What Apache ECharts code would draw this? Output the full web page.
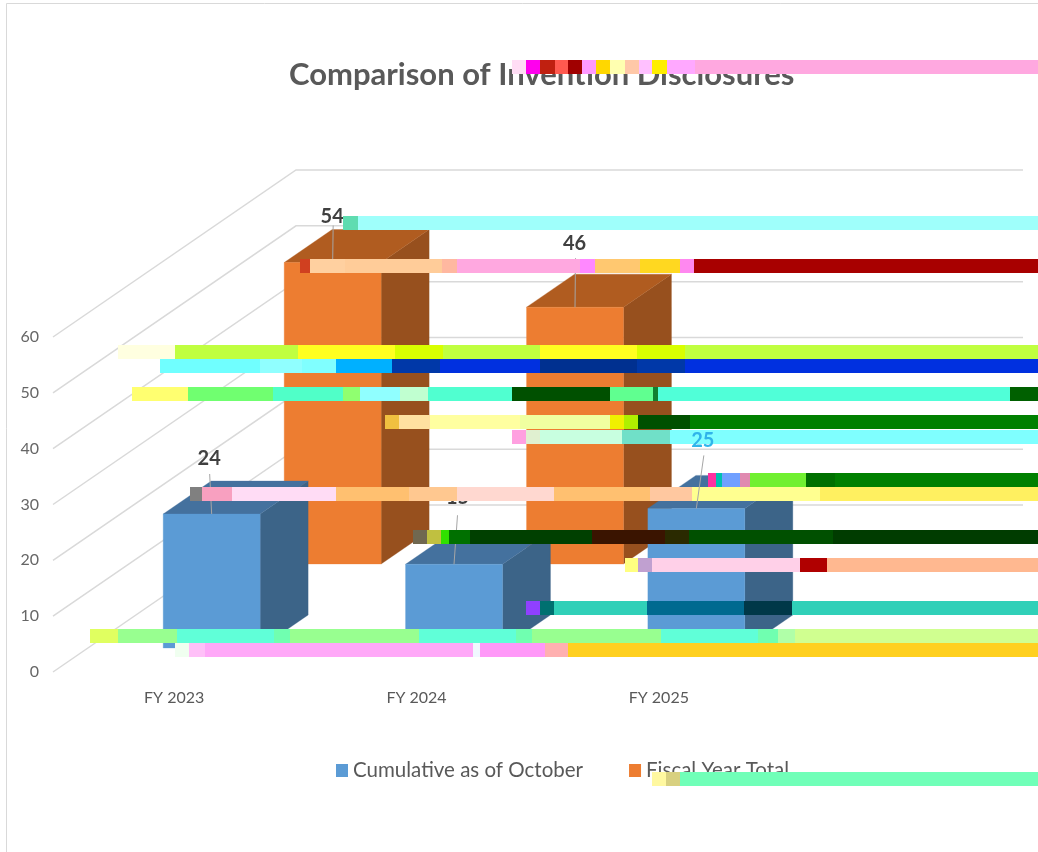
<!DOCTYPE html>
<html>
<head>
<meta charset="utf-8">
<style>html,body{margin:0;padding:0;background:#fff}#c{width:1038px;height:852px}</style>
<script src="https://cdn.jsdelivr.net/npm/echarts@6/dist/echarts.min.js"></script>
</head>
<body>
<div id="c"></div>
<script>
var categories = ['FY 2023', 'FY 2024', 'FY 2025'];
var cumulative = [24, 15, 25];
var fiscalTotal = [54, 46, null];
var yTicks = [0, 10, 20, 30, 40, 50, 60];

var FONT = 'Lato, "Open Sans", sans-serif';
// Oblique projection of the 3D chart (pixels)
var WALL = [243, -167];
var BAR_DEPTH = [48, -33];
var BLUE_ROW = [37.5, -24];
var ORANGE_ROW = [158.5, -108];

// Label placement relative to the bar's front-top centre: [label dx, label dy, leader start dx, dy]
var blueLabelPos = [[-2.5, -55, -2, -40], [3.5, -67, 3.5, -49], [6.5, -68, 7.5, -53]];
var orangeLabelPos = [[-0.5, -46, 0.5, -37], [-0.5, -64, 0.5, -49]];

function poly(points, fill) {
  return { type: 'polygon', shape: { points: points }, style: { fill: fill, stroke: fill, lineWidth: 0.3 } };
}

function barSeries(name, values, row, colors, z) {
  return {
    name: name, type: 'custom', z: z, clip: false, silent: true,
    itemStyle: { color: colors[0] },
    encode: { x: 0, y: 1 },
    data: values.map(function (v, i) { return [i, v]; }),
    renderItem: function (params, api) {
      var v = api.value(1);
      if (isNaN(v)) return null;
      var band = api.size([1, 0])[0];
      var w = band * 0.4;
      var top = api.coord([api.value(0), v]);
      var base = api.coord([api.value(0), 0]);
      var x0 = top[0] + row[0] - w / 2, x1 = x0 + w;
      var yt = top[1] + row[1], yb = base[1] + row[1];
      var dx = BAR_DEPTH[0], dy = BAR_DEPTH[1];
      return {
        type: 'group',
        children: [
          poly([[x1, yt], [x1 + dx, yt + dy], [x1 + dx, yb + dy], [x1, yb]], colors[1]),
          poly([[x0, yt], [x0 + dx, yt + dy], [x1 + dx, yt + dy], [x1, yt]], colors[2]),
          poly([[x0, yt], [x1, yt], [x1, yb], [x0, yb]], colors[0])
        ]
      };
    }
  };
}

function labelSeries(name, values, row, pos, z, color, keep) {
  return {
    name: name, type: 'custom', z: z, clip: false, silent: true,
    encode: { x: 0, y: 1 },
    data: values.map(function (v, i) { return [i, v]; }),
    renderItem: function (params, api) {
      var i = api.value(0), v = api.value(1);
      if (isNaN(v) || !keep(i)) return null;
      var top = api.coord([i, v]);
      var cx = top[0] + row[0], cy = top[1] + row[1], p = pos[i];
      return {
        type: 'group',
        children: [
          { type: 'line', shape: { x1: cx + p[2], y1: cy + p[3], x2: cx, y2: cy },
            style: { stroke: '#a6a6a6', lineWidth: 1 } },
          { type: 'text', style: { text: String(v), x: cx + p[0], y: cy + p[1], align: 'center',
            verticalAlign: 'middle', font: '700 20px ' + FONT, fill: color } }
        ]
      };
    }
  };
}

var wallSeries = {
  name: 'walls', type: 'custom', z: 1, clip: false, silent: true,
  encode: { x: 0, y: 1 },
  data: yTicks.map(function (v) { return [0, v]; }),
  renderItem: function (params, api) {
    var band = api.size([1, 0])[0];
    var p = api.coord([0, api.value(1)]);
    var x0 = p[0] - band / 2, y0 = p[1];
    return {
      type: 'polyline',
      shape: { points: [[x0, y0], [x0 + WALL[0], y0 + WALL[1]], [x0 + band * 3 + WALL[0], y0 + WALL[1]]] },
      style: { fill: 'none', stroke: '#d9d9d9', lineWidth: 1.5 }
    };
  }
};

// Corrupted horizontal bands visible across the reference: [y, [x0, x1, colour], ...]
var bands = [
  [60, [512,526,'#ffddf5'],[526,540,'#ff00ee'],[540,555,'#c02010'],[555,568,'#ff5a50'],[568,582,'#a00000'],[582,596,'#ff99ff'],[596,610,'#ffd700'],[610,625,'#ffffb0'],[625,639,'#ffc8a8'],[639,652,'#ffc0ff'],[652,667,'#ffee00'],[667,695,'#ffa8ff'],[695,1038,'#ffa8e0']],
  [216, [343,358,'#5fdcb0'],[358,1038,'#9ffffb']],
  [259, [300,310,'#d04020'],[310,345,'#ffd0a0'],[345,442,'#ffcc99'],[442,457,'#ffb8a0'],[457,580,'#ffa8e0'],[580,595,'#ff88ff'],[595,640,'#ffc870'],[640,680,'#ffd820'],[680,694,'#ff88f0'],[694,1038,'#a80000']],
  [345, [118,175,'#ffffe0'],[175,298,'#c0ff40'],[298,395,'#ffff20'],[395,443,'#d8ff00'],[443,540,'#c0ff40'],[540,637,'#ffff20'],[637,685,'#d8ff00'],[685,1038,'#c0ff40']],
  [359, [160,260,'#70ffff'],[260,302,'#90ffff'],[302,336,'#80ffff'],[336,392,'#00b0ff'],[392,440,'#0038a8'],[440,540,'#0030e0'],[540,637,'#003090'],[637,685,'#0038a8'],[685,1038,'#0030e0']],
  [387, [132,188,'#ffff70'],[188,273,'#70ff70'],[273,343,'#50ffc8'],[343,360,'#90ff70'],[360,400,'#90ffff'],[400,428,'#c0ffd0'],[428,512,'#50ffd0'],[512,610,'#005000'],[610,653,'#60ff90'],[653,658,'#108030'],[658,1010,'#50ffd8'],[1010,1038,'#006000']],
  [415, [385,399,'#f0c040'],[399,430,'#ffe0a0'],[430,520,'#ffffa0'],[520,610,'#f0ffa0'],[610,624,'#f0f000'],[624,638,'#b0f000'],[638,690,'#005000'],[690,1038,'#008000']],
  [430, [512,526,'#ffa0e0'],[526,540,'#e0f0d0'],[540,622,'#c8ffe0'],[622,670,'#70e0c8'],[670,1038,'#7fffff']],
  [473, [708,716,'#ff30a0'],[716,722,'#00c0b0'],[722,740,'#70a0ff'],[740,750,'#e08ab0'],[750,806,'#70f030'],[806,835,'#007000'],[835,1038,'#008000']],
  [487, [190,202,'#808080'],[202,232,'#f8a0c0'],[232,336,'#ffdcf5'],[336,409,'#ffc070'],[409,457,'#ffc890'],[457,554,'#ffd8d0'],[554,650,'#ffc070'],[650,692,'#ffc8a0'],[692,820,'#ffff90'],[820,1038,'#fff060']],
  [530, [413,427,'#706850'],[427,441,'#c0c040'],[441,449,'#30e000'],[449,470,'#007000'],[470,592,'#004000'],[592,665,'#3a1400'],[665,689,'#2a2a00'],[689,833,'#005000'],[833,1038,'#003c00']],
  [558, [625,638,'#ffff80'],[638,652,'#c0a0d0'],[652,800,'#ffd0e8'],[800,827,'#b00000'],[827,1038,'#ffb890']],
  [601, [526,540,'#9040ff'],[540,554,'#007070'],[554,647,'#30d0b8'],[647,744,'#006a90'],[744,792,'#003848'],[792,1038,'#30d0b8']],
  [629, [90,118,'#e0ff60'],[118,177,'#98ff90'],[177,274,'#60ffd8'],[274,290,'#70ffb0'],[290,419,'#98ff90'],[419,516,'#60ffd8'],[516,532,'#70ffb0'],[532,661,'#98ff90'],[661,758,'#60ffd8'],[758,778,'#70ffb0'],[778,795,'#b0ffa8'],[795,1038,'#d0ff90']],
  [643, [175,189,'#f0fff0'],[189,205,'#ffc0f8'],[205,473,'#ffa8f8'],[473,480,'#f0f8ff'],[480,545,'#ff98f8'],[545,568,'#ffb0b0'],[568,1038,'#ffd020']],
  [772, [652,666,'#fff8a0'],[666,680,'#d8d080'],[680,1038,'#70ffb8']]
];

var bandRects = [];
bands.forEach(function (row) {
  row.slice(1).forEach(function (s) {
    bandRects.push({ type: 'rect', z: 10, silent: true,
      shape: { x: s[0], y: row[0], width: s[1] - s[0], height: 14 },
      style: { fill: s[2] } });
  });
});

var chart = echarts.init(document.getElementById('c'), null, { renderer: 'canvas' });
chart.setOption({
  animation: false,
  backgroundColor: '#ffffff',
  textStyle: { fontFamily: FONT },
  title: {
    text: 'Comparison of Invention Disclosures',
    left: 284, top: 54,
    textStyle: { fontFamily: FONT, fontSize: 31, fontWeight: 700, color: '#595959' }
  },
  legend: {
    data: ['Cumulative as of October', 'Fiscal Year Total'],
    left: 331, top: 755,
    icon: 'rect', itemWidth: 12, itemHeight: 13, itemGap: 46,
    textStyle: { fontFamily: FONT, fontSize: 20.5, color: '#595959' }
  },
  grid: { left: 53, top: 337, width: 727, height: 335 },
  xAxis: {
    type: 'category', data: categories,
    axisLine: { show: false }, axisTick: { show: false },
    axisLabel: { fontFamily: FONT, fontSize: 16, color: '#595959', margin: 18 }
  },
  yAxis: {
    type: 'value', min: 0, max: 60, interval: 10,
    splitLine: { show: false }, axisLine: { show: false }, axisTick: { show: false },
    axisLabel: { fontFamily: FONT, fontSize: 16, color: '#666666', margin: 14, padding: [7, 0, 0, 0] }
  },
  graphic: [
    { type: 'rect', z: -10, silent: true, shape: { x: 6.5, y: 3.5, width: 1100, height: 900 },
      style: { fill: '#ffffff', stroke: '#d9d9d9', lineWidth: 1 } }
  ].concat(bandRects),
  series: [
    wallSeries,
    barSeries('Fiscal Year Total', fiscalTotal, ORANGE_ROW, ['#ed7d31', '#97501e', '#b05c20'], 2),
    barSeries('Cumulative as of October', cumulative, BLUE_ROW, ['#5b9bd5', '#3c6488', '#44719e'], 3),
    labelSeries('orangeLabels', fiscalTotal, ORANGE_ROW, orangeLabelPos, 4, '#404040', function () { return true; }),
    labelSeries('blueLabels', cumulative, BLUE_ROW, blueLabelPos, 4, '#404040', function (i) { return i !== 2; }),
    labelSeries('blueLabelOverBand', cumulative, BLUE_ROW, blueLabelPos, 11, '#30b4ea', function (i) { return i === 2; })
  ]
});
</script>
</body>
</html>
